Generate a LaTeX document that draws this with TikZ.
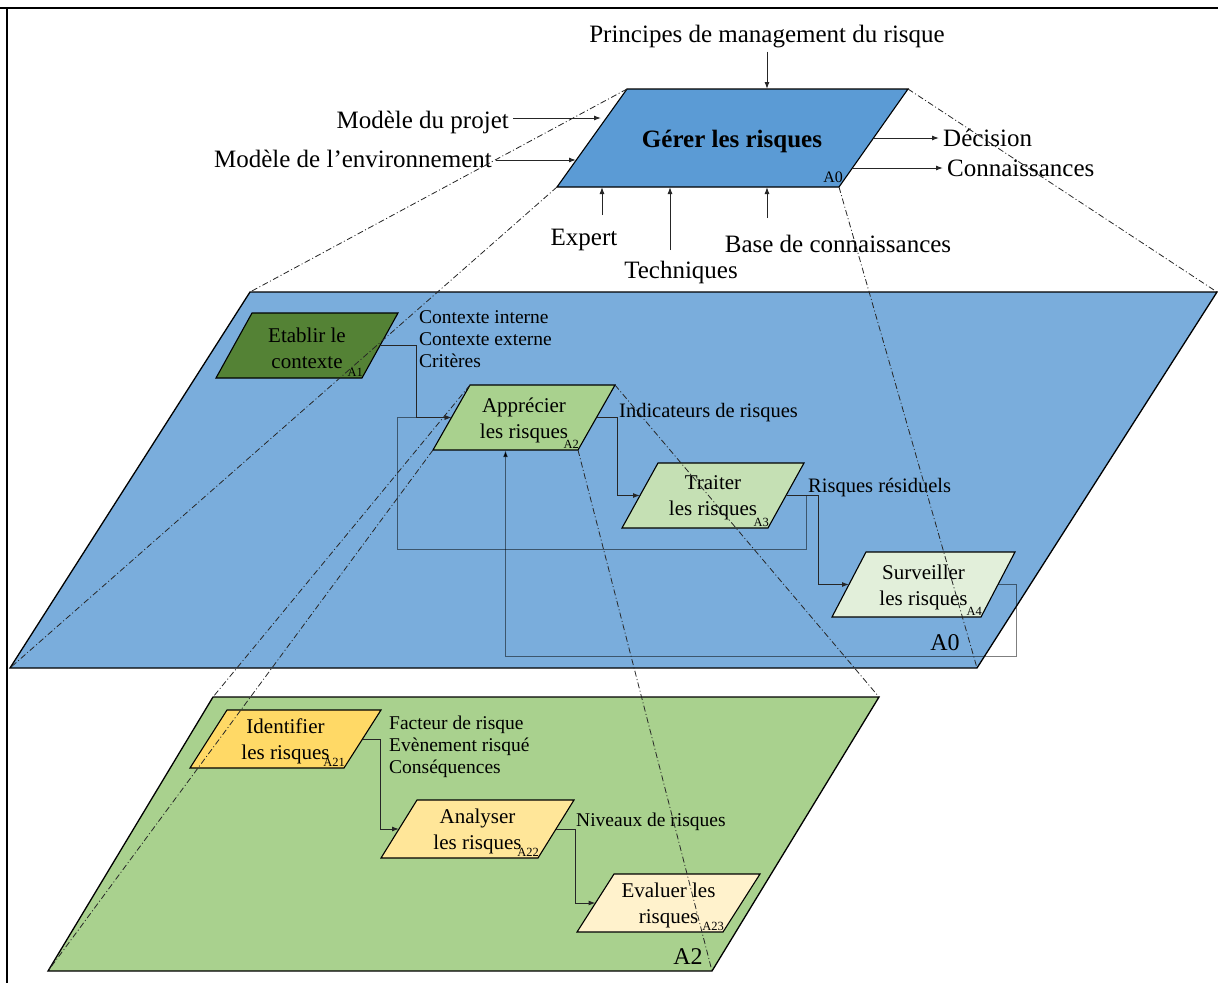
\documentclass[tikz,border=0pt]{standalone}
\usepackage{fontspec}
\setmainfont{Liberation Serif}
\usepackage{xcolor}
\usepackage{tikz}
\usetikzlibrary{arrows.meta}

\definecolor{bleuA}{HTML}{5B9BD5}
\definecolor{bleuplan}{HTML}{7AADDC}
\definecolor{vertA}{HTML}{548235}
\definecolor{vertB}{HTML}{A9D18E}
\definecolor{vertC}{HTML}{C5E0B4}
\definecolor{vertD}{HTML}{E2EFDA}
\definecolor{jauneA}{HTML}{FFD966}
\definecolor{jauneB}{HTML}{FFE699}
\definecolor{jauneC}{HTML}{FFF2CC}

% boite : nom, x, y (coin haut gauche), largeur, hauteur, decalage, couleur, texte, indice
\newcommand{\boite}[9]{%
    \draw[fill=#7, line width=1.1pt] (#2,#3) -- ++(#4,0) -- ++(-#6,#5) -- ++(-#4,0) -- cycle;
    \node[texte] (#1) at (#2+#4/2-#6/2,#3+#5/2+2.5) {#8};
    \node[indice, anchor=base east] at (#2+#4-#6+1,#3+#5-1.5) {#9};
    \coordinate (#1-in) at (#2-#6/2,#3+#5/2);
    \coordinate (#1-out) at (#2+#4-#6/2,#3+#5/2);
    \coordinate (#1-bas) at (#2+#4/2-#6,#3+#5);
    \coordinate (#1-hg) at (#2,#3);
    \coordinate (#1-hd) at (#2+#4,#3);
    \coordinate (#1-bd) at (#2+#4-#6,#3+#5);
    \coordinate (#1-bg) at (#2-#6,#3+#5);
}

\begin{document}
\begin{tikzpicture}
            [x=1pt, y=-1pt,
            fleche/.style = {-{Latex[length=7pt,width=5pt]}, line width=1pt, black!85},
            retour/.style = {-{Latex[length=7pt,width=5pt]}, line width=1pt, draw=black, draw opacity=0.5},
            projection/.style = {line width=0.8pt, black!85, dash pattern=on 6pt off 2.5pt on 1pt off 2.5pt},
            plan/.style = {line width=1.3pt},
            texte/.style = {align=center, inner sep=0pt, font=\fontsize{21}{26}\selectfont},
            indice/.style = {inner sep=0pt, font=\fontsize{12.5}{15}\selectfont},
            etiq/.style = {align=left, inner sep=0pt, font=\fontsize{19.5}{22}\selectfont},
            grand/.style = {inner sep=4pt, font=\fontsize{25}{30}\selectfont}]
            \useasboundingbox (0,0) rectangle (1218,983);
            \draw[line width=2.8pt] (0,8) -- (1218,8);
            \draw[line width=2.8pt] (7,8) -- (7,983);

            % Boite principale
            \draw[fill=bleuA, line width=1.1pt] (627,89) -- (908,89) -- (839,187) -- (557,187) -- cycle;
            \node[font=\fontsize{25}{30}\selectfont\bfseries, anchor=base] (A0) at (732,147) {Gérer les risques};
            \node[font=\fontsize{16}{18}\selectfont, inner sep=0pt, anchor=base east] at (843,182) {A0};
            \coordinate (A0-hg) at (627,89);
            \coordinate (A0-hd) at (908,89);
            \coordinate (A0-bd) at (839,187);
            \coordinate (A0-bg) at (557,187);

            \node[grand, anchor=base] (princ) at (767,42) {Principes de management du risque};
            \node[grand, anchor=base east] (proj) at (513,128) {Modèle du projet};
            \node[grand, anchor=base east] (env) at (496,167) {Modèle de l’environnement};
            \node[grand, anchor=base west] (dec) at (939,146) {Décision};
            \node[grand, anchor=base west] (conn) at (943,176) {Connaissances};
            \node[grand, anchor=base] (exp) at (584,245) {Expert};
            \node[grand, anchor=base] (tech) at (681,278) {Techniques};
            \node[grand, anchor=base] (bdc) at (838,252) {Base de connaissances};

            \coordinate (e-princ) at (767,89);
            \coordinate (e-proj) at (601,118);
            \coordinate (e-env) at (576,160);
            \coordinate (s-dec) at (874,138);
            \coordinate (s-conn) at (852,168);
            \coordinate (s-exp) at (602,215);
            \coordinate (e-exp) at (602,187);
            \coordinate (s-tech) at (670,250);
            \coordinate (e-tech) at (670,187);
            \coordinate (s-bdc) at (767,218);
            \coordinate (e-bdc) at (767,187);

            \draw[fleche] (princ.south) -- (e-princ);
            \draw[fleche] (proj.east |- e-proj) -- (e-proj);
            \draw[fleche] (env.east |- e-env) -- (e-env);
            \draw[fleche] (s-dec) -- (dec.west |- s-dec);
            \draw[fleche] (s-conn) -- (conn.west |- s-conn);
            \draw[fleche] (s-exp) -- (e-exp);
            \draw[fleche] (s-tech) -- (e-tech);
            \draw[fleche] (s-bdc) -- (e-bdc);

            % Plan A0
            \draw[plan, fill=bleuplan] (250,292) -- (1217,292) -- (977,668) -- (10,668) -- cycle;
            \coordinate (P0-hg) at (250,292);
            \coordinate (P0-hd) at (1217,292);
            \coordinate (P0-bd) at (977,668);
            \coordinate (P0-bg) at (10,668);
            \node[font=\fontsize{24}{28}\selectfont, anchor=base] at (945,650) {A0};

            \boite{A1}{252}{313}{146}{65}{36}{vertA}{Etablir le\\contexte}{A1}
            \boite{A2}{470}{385}{145}{65}{37}{vertB}{Apprécier\\les risques}{A2}
            \boite{A3}{658}{463}{146}{65}{36}{vertC}{Traiter\\les risques}{A3}
            \boite{A4}{866}{552}{149}{65}{34}{vertD}{Surveiller\\les risques}{A4}

            \draw[retour] (A3-out) -- ++(20,0) -- ++(0,54) -- ++(-409,0) |- (A2-in);
            \draw[retour] (A4-out) -- ++(18,0) -- ++(0,72) -| (A2-bas);
            \draw[fleche] (A1-out) -- ++(36,0) |- (A2-in);
            \draw[fleche] (A2-out) -- ++(21,0) |- (A3-in);
            \draw[fleche] (A3-out) -- ++(32,0) |- (A4-in);

            \node[etiq, anchor=north west] (ctx) at (419,310) {Contexte interne\\Contexte externe\\Critères};
            \node[etiq, anchor=base west, font=\fontsize{20.5}{24}\selectfont] (ind) at (619,417) {Indicateurs de risques};
            \node[etiq, anchor=base west, font=\fontsize{20.5}{24}\selectfont] (res) at (808,492) {Risques résiduels};

            % Plan A2
            \draw[plan, fill=vertB] (213,697) -- (879,697) -- (712,971) -- (48,971) -- cycle;
            \coordinate (P2-hg) at (213,697);
            \coordinate (P2-hd) at (879,697);
            \coordinate (P2-bd) at (712,971);
            \coordinate (P2-bg) at (48,971);
            \node[font=\fontsize{24}{28}\selectfont, anchor=base] at (688,964) {A2};

            \boite{A21}{227}{710}{154}{58}{37}{jauneA}{Identifier\\les risques}{A21}
            \boite{A22}{417}{800}{157}{58}{36}{jauneB}{Analyser\\les risques}{A22}
            \boite{A23}{614}{874}{146}{58}{37}{jauneC}{Evaluer les\\risques}{A23}

            \draw[fleche] (A21-out) -- ++(18,0) |- (A22-in);
            \draw[fleche] (A22-out) -- ++(19,0) |- (A23-in);

            \node[etiq, anchor=north west] (fact) at (389,716) {Facteur de risque\\Evènement risqué\\Conséquences};
            \node[etiq, anchor=base west] (niv) at (576,826) {Niveaux de risques};

            % Projections
            \draw[projection] (A0-hg) -- (P0-hg);
            \draw[projection] (A0-hd) -- (P0-hd);
            \draw[projection] (A0-bd) -- (P0-bd);
            \draw[projection] (A0-bg) -- (P0-bg);
            \draw[projection] (A2-hg) -- (P2-hg);
            \draw[projection] (A2-hd) -- (P2-hd);
            \draw[projection] (A2-bd) -- (P2-bd);
            \draw[projection] (A2-bg) -- (P2-bg);
        \end{tikzpicture}
\end{document}
